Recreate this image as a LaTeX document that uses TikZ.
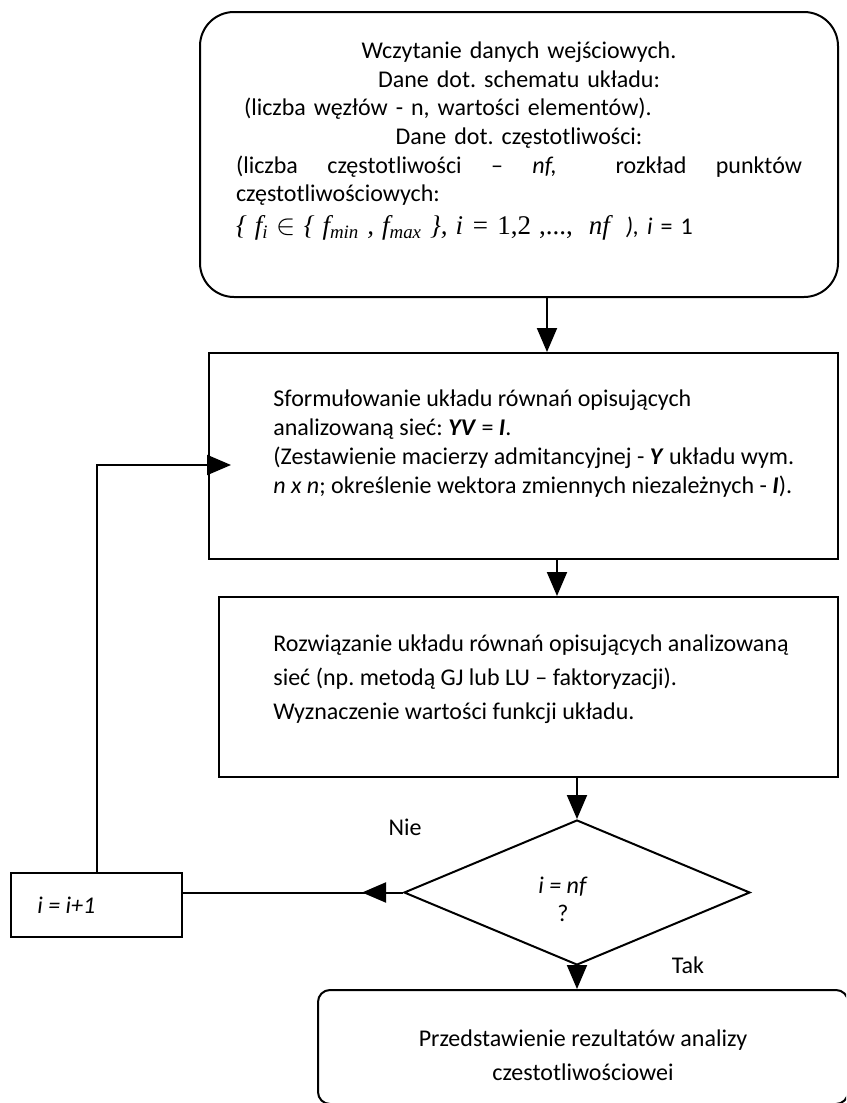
\documentclass[tikz,border=0pt]{standalone}
\usepackage{fontspec}
\setmainfont{Carlito}
\newfontfamily\timesf{Liberation Serif}
\usepackage{tikz}
\usetikzlibrary{shapes.geometric,arrows.meta}
\frenchspacing

\begin{document}
\begin{tikzpicture}[x=0.5pt, y=-0.5pt,
	blok/.style={rectangle, draw=black, line width=1pt, inner sep=0pt},
	decyzja/.style={diamond, draw=black, line width=1pt, inner sep=0pt},
	tekst/.style={inner sep=0pt, font=\fontsize{12}{14.3}\selectfont},
	strz/.style={line width=1pt, -{Triangle[length=12pt,width=10pt]}}]
	\useasboundingbox (0,0) rectangle (846,1103);
	\clip (0,0) rectangle (846,1103);
	% bloki
	\node[blok, rounded corners=17pt,
	minimum width = 319pt,
	minimum height = 142.5pt] (1) at(519,154.5){};
	\node[blok,
	minimum width = 314.5pt,
	minimum height = 103pt] (2) at(523.5,456){};
	\node[blok,
	minimum width = 309.5pt,
	minimum height = 90pt] (3) at(528.5,687){};
	\node[blok, rounded corners=6pt,
	minimum width = 265pt,
	minimum height = 57pt] (4) at(583,1047){};
	\node[decyzja,
	minimum width = 173pt,
	minimum height = 72.5pt] (5) at(577,892.5){};
	\node[blok,
	minimum width = 85.5pt,
	minimum height = 32pt] (6) at(96.5,905){};
	% teksty
	\node[tekst, align=center, text width=283pt] (1t) at(519,141){%
		Wczytanie danych wejściowych.\\
		Dane dot. schematu układu:\\
		\makebox[283pt][l]{\ (liczba węzłów - n, wartości elementów).}\\
		Dane dot. częstotliwości:\\
		\makebox[283pt][l]{(liczba\hfill częstotliwości\hfill –\hfill \textit{nf,}\hfill\hfill rozkład\hfill punktów}\\
		\makebox[283pt][l]{częstotliwościowych:}\\[2pt]
		\makebox[283pt][l]{{\timesf\fontsize{13.5}{16}\selectfont\itshape \{ f\textsubscript{i} $\in$ \{ f\textsubscript{min} , f\textsubscript{max} \}, i = \upshape 1,2 ,..., \itshape\ nf} \ \textit{), i} = 1}};
	\node[tekst, anchor=west, align=left, font=\fontsize{12}{14.5}\selectfont] (2t) at(273,444){%
		Sformułowanie układu równań opisujących\\
		analizowaną sieć: \textbf{\textit{YV}} = \textbf{\textit{I}}.\\
		(Zestawienie macierzy admitancyjnej - \textbf{\textit{Y}} układu wym.\\
		\textit{n x n}; określenie wektora zmiennych niezależnych - \textbf{\textit{I}}).};
	\node[tekst, anchor=west, align=left, font=\fontsize{12}{17}\selectfont] (3t) at(273,679){%
		Rozwiązanie układu równań opisujących analizowaną\\
		sieć (np. metodą GJ lub LU -- faktoryzacji).\\
		Wyznaczenie wartości funkcji układu.};
	\node[tekst, align=center, font=\fontsize{12}{17}\selectfont] (4t) at(583,1055){%
		Przedstawienie rezultatów analizy\\
		czestotliwościowei};
	\node[tekst, align=center, font=\fontsize{12}{14}\selectfont] (5t) at(563,899){\textit{i = nf}\\?};
	\node[tekst, anchor=west] (6t) at(37,905){\textit{i = i+1}};
	\node[tekst] (nie) at(405,827){Nie};
	\node[tekst] (tak) at(688,965){Tak};
	% strzalki
	\draw[strz] ([xshift=14pt]1.south) -- ([xshift=14pt]1.south |- 2.north);
	\draw[strz] ([xshift=16.75pt]2.south) -- ([xshift=16.75pt]2.south |- 3.north);
	\draw[strz] (3.south -| 5.north) -- (5.north);
	\draw[strz] (5.south) -- (5.south |- 4.north);
	\draw[line width=1pt] (5.west) -- (5.west -| 6.east);
	\draw[strz] (5.west) -- ++(-41,0);
	\draw[strz] (6.north) |- ([xshift=11.5pt,yshift=-4.5pt]2.west);
\end{tikzpicture}
\end{document}
